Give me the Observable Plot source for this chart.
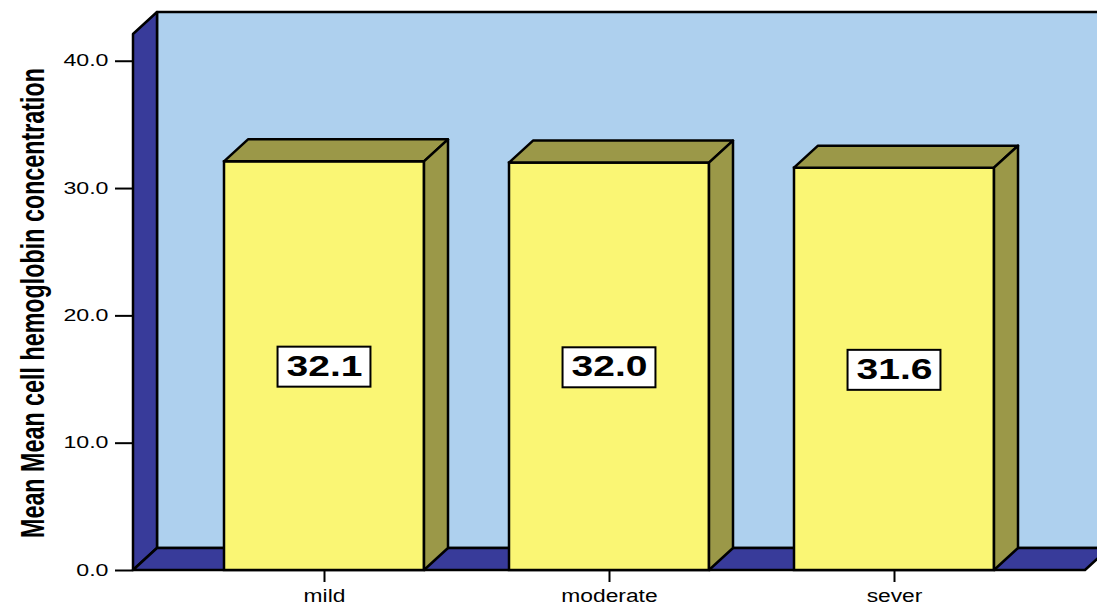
<!DOCTYPE html>
<html>
<head>
<meta charset="utf-8">
<script src="https://cdn.jsdelivr.net/npm/d3@7"></script>
<script src="https://cdn.jsdelivr.net/npm/@observablehq/plot@0.6"></script>
<style>
  html, body { margin: 0; padding: 0; background: #fff; overflow: hidden; }
</style>
</head>
<body>
<script>
// ---- data ----
const categories = ["mild", "moderate", "sever"];
const values = [32.1, 32.0, 31.6];
const yTicks = [0, 10, 20, 30, 40];
const yMax = 42.1;
const yTitle = "Mean Mean cell hemoglobin concentration";

// ---- style ----
const colors = {wall: "#AED0EE", side: "#383B9A", front: "#FAF674", shade: "#9B9848"};
const DX = 24, DY = 22; // 3D depth offset in pixels
const W = 1097, H = 605;
const fmt = d3.format(".1f");

const data = categories.map((cat, i) => ({cat, value: values[i]}));

const plot = Plot.plot({
  width: W, height: H,
  marginLeft: 133, marginRight: 12, marginTop: 34, marginBottom: 35,
  style: {fontFamily: "'Liberation Sans', Arial, sans-serif", background: "#fff", overflow: "hidden", color: "#000"},
  x: {domain: categories, paddingInner: 0.3, paddingOuter: 0.315, label: null},
  y: {domain: [0, yMax], label: null},
  marks: [
    Plot.barY(data, {x: "cat", y: "value", fill: colors.front, stroke: "#000", strokeWidth: 2.5}),
    Plot.text(data, {x: "cat", y: d => d.value / 2, text: d => fmt(d.value), fontSize: 30, fontWeight: "bold", fill: "#000"}),
    Plot.text([yTitle], {frameAnchor: "left", text: d => d, rotate: -90, fontSize: 21, fontWeight: "bold", fill: "#000"}),
    Plot.axisX({tickSize: 12, tickPadding: 6, fontSize: 19, strokeWidth: 2, label: null}),
    Plot.axisY({ticks: yTicks, tickFormat: fmt, tickSize: 18, tickPadding: 7, fontSize: 16, strokeWidth: 2, label: null})
  ]
});

document.body.appendChild(plot);

const svg = d3.select(plot);
const xs = plot.scale("x"), ys = plot.scale("y");
const bw = xs.bandwidth;
const [x0, x1] = xs.range;
const yb = ys.apply(0), yt = ys.apply(yMax);
const pts = a => a.map(p => p.join(",")).join(" ");

// ---- walls & floor (behind everything) ----
const scene = svg.insert("g", "g")
  .attr("stroke", "#000").attr("stroke-width", 2.5).attr("stroke-linejoin", "round");
scene.append("rect")
  .attr("x", x0 + DX).attr("y", yt - DY)
  .attr("width", W + 40).attr("height", yb - yt)
  .attr("fill", colors.wall);
scene.append("polygon")
  .attr("points", pts([[x0, yb], [x0, yt], [x0 + DX, yt - DY], [x0 + DX, yb - DY]]))
  .attr("fill", colors.side);
scene.append("polygon")
  .attr("points", pts([[x0, yb], [x1, yb], [x1 + DX, yb - DY], [x0 + DX, yb - DY]]))
  .attr("fill", colors.side);

// ---- bar tops and sides (just after the bar mark) ----
const firstBarRect = plot.querySelector("g[aria-label='bar'] rect") || plot.querySelector("rect[fill='" + colors.front + "']");
const barGroup = plot.querySelector("g[aria-label='bar']") || (firstBarRect && firstBarRect.parentNode);
const facesNode = document.createElementNS("http://www.w3.org/2000/svg", "g");
barGroup.parentNode.insertBefore(facesNode, barGroup.nextSibling);
const faces = d3.select(facesNode)
  .attr("stroke", "#000").attr("stroke-width", 2.5).attr("stroke-linejoin", "round")
  .attr("fill", colors.shade);
data.forEach(d => {
  const bx0 = xs.apply(d.cat), bx1 = bx0 + bw, yv = ys.apply(d.value);
  faces.append("polygon").attr("points", pts([[bx0, yv], [bx1, yv], [bx1 + DX, yv - DY], [bx0 + DX, yv - DY]]));
  faces.append("polygon").attr("points", pts([[bx1, yv], [bx1 + DX, yv - DY], [bx1 + DX, yb - DY], [bx1, yb]]));
});

// ---- text stretching helper (keeps em-based offsets in place) ----
const isNum = v => v != null && v !== "" && !isNaN(+v);
function stretch(el, sx, sy) {
  const t = el.getAttribute("transform") || "";
  let tx = 0, ty = 0;
  const ax = el.getAttribute("x"), ay = el.getAttribute("y");
  if (isNum(ax)) { tx = +ax; el.removeAttribute("x"); }
  if (isNum(ay)) { ty = +ay; el.removeAttribute("y"); }
  el.setAttribute("transform", `${t} translate(${tx},${ty}) scale(${sx},${sy})`);
}

const allTexts = Array.from(plot.querySelectorAll("text"));
const yTickStrs = new Set(yTicks.map(fmt));
const valueStrs = new Map(data.map(d => [fmt(d.value), d]));
const catSet = new Set(categories);

allTexts.forEach(el => {
  const s = el.textContent;
  if (yTickStrs.has(s)) stretch(el, 1.45, 1);
  else if (catSet.has(s)) stretch(el, 1.2, 1);
});

// value labels with white boxes
const VSX = 1.3;
allTexts.filter(el => valueStrs.has(el.textContent)).forEach(el => {
  const d = valueStrs.get(el.textContent);
  const w = el.getBBox().width * VSX + 17;
  stretch(el, VSX, 1);
  const cx = xs.apply(d.cat) + bw / 2, cy = ys.apply(d.value / 2) + 1;
  const box = document.createElementNS("http://www.w3.org/2000/svg", "rect");
  box.setAttribute("x", cx - w / 2); box.setAttribute("y", cy - 20);
  box.setAttribute("width", w); box.setAttribute("height", 40);
  box.setAttribute("fill", "#fff"); box.setAttribute("stroke", "#000"); box.setAttribute("stroke-width", 2);
  const g = el.parentNode;
  g.parentNode.insertBefore(box, g);
});

// y title
allTexts.filter(el => el.textContent === yTitle).forEach(el => {
  el.removeAttribute("x"); el.removeAttribute("y"); el.removeAttribute("dy");
  el.setAttribute("text-anchor", "middle");
  el.setAttribute("textLength", 470);
  el.setAttribute("lengthAdjust", "spacingAndGlyphs");
  const cy = (yb + yt) / 2 + 1;
  el.setAttribute("transform", `translate(43.5,${cy}) rotate(-90) scale(1,1.55)`);
  const g = el.parentNode;
  if (g && g.getAttribute("transform")) g.removeAttribute("transform");
});
</script>
</body>
</html>
